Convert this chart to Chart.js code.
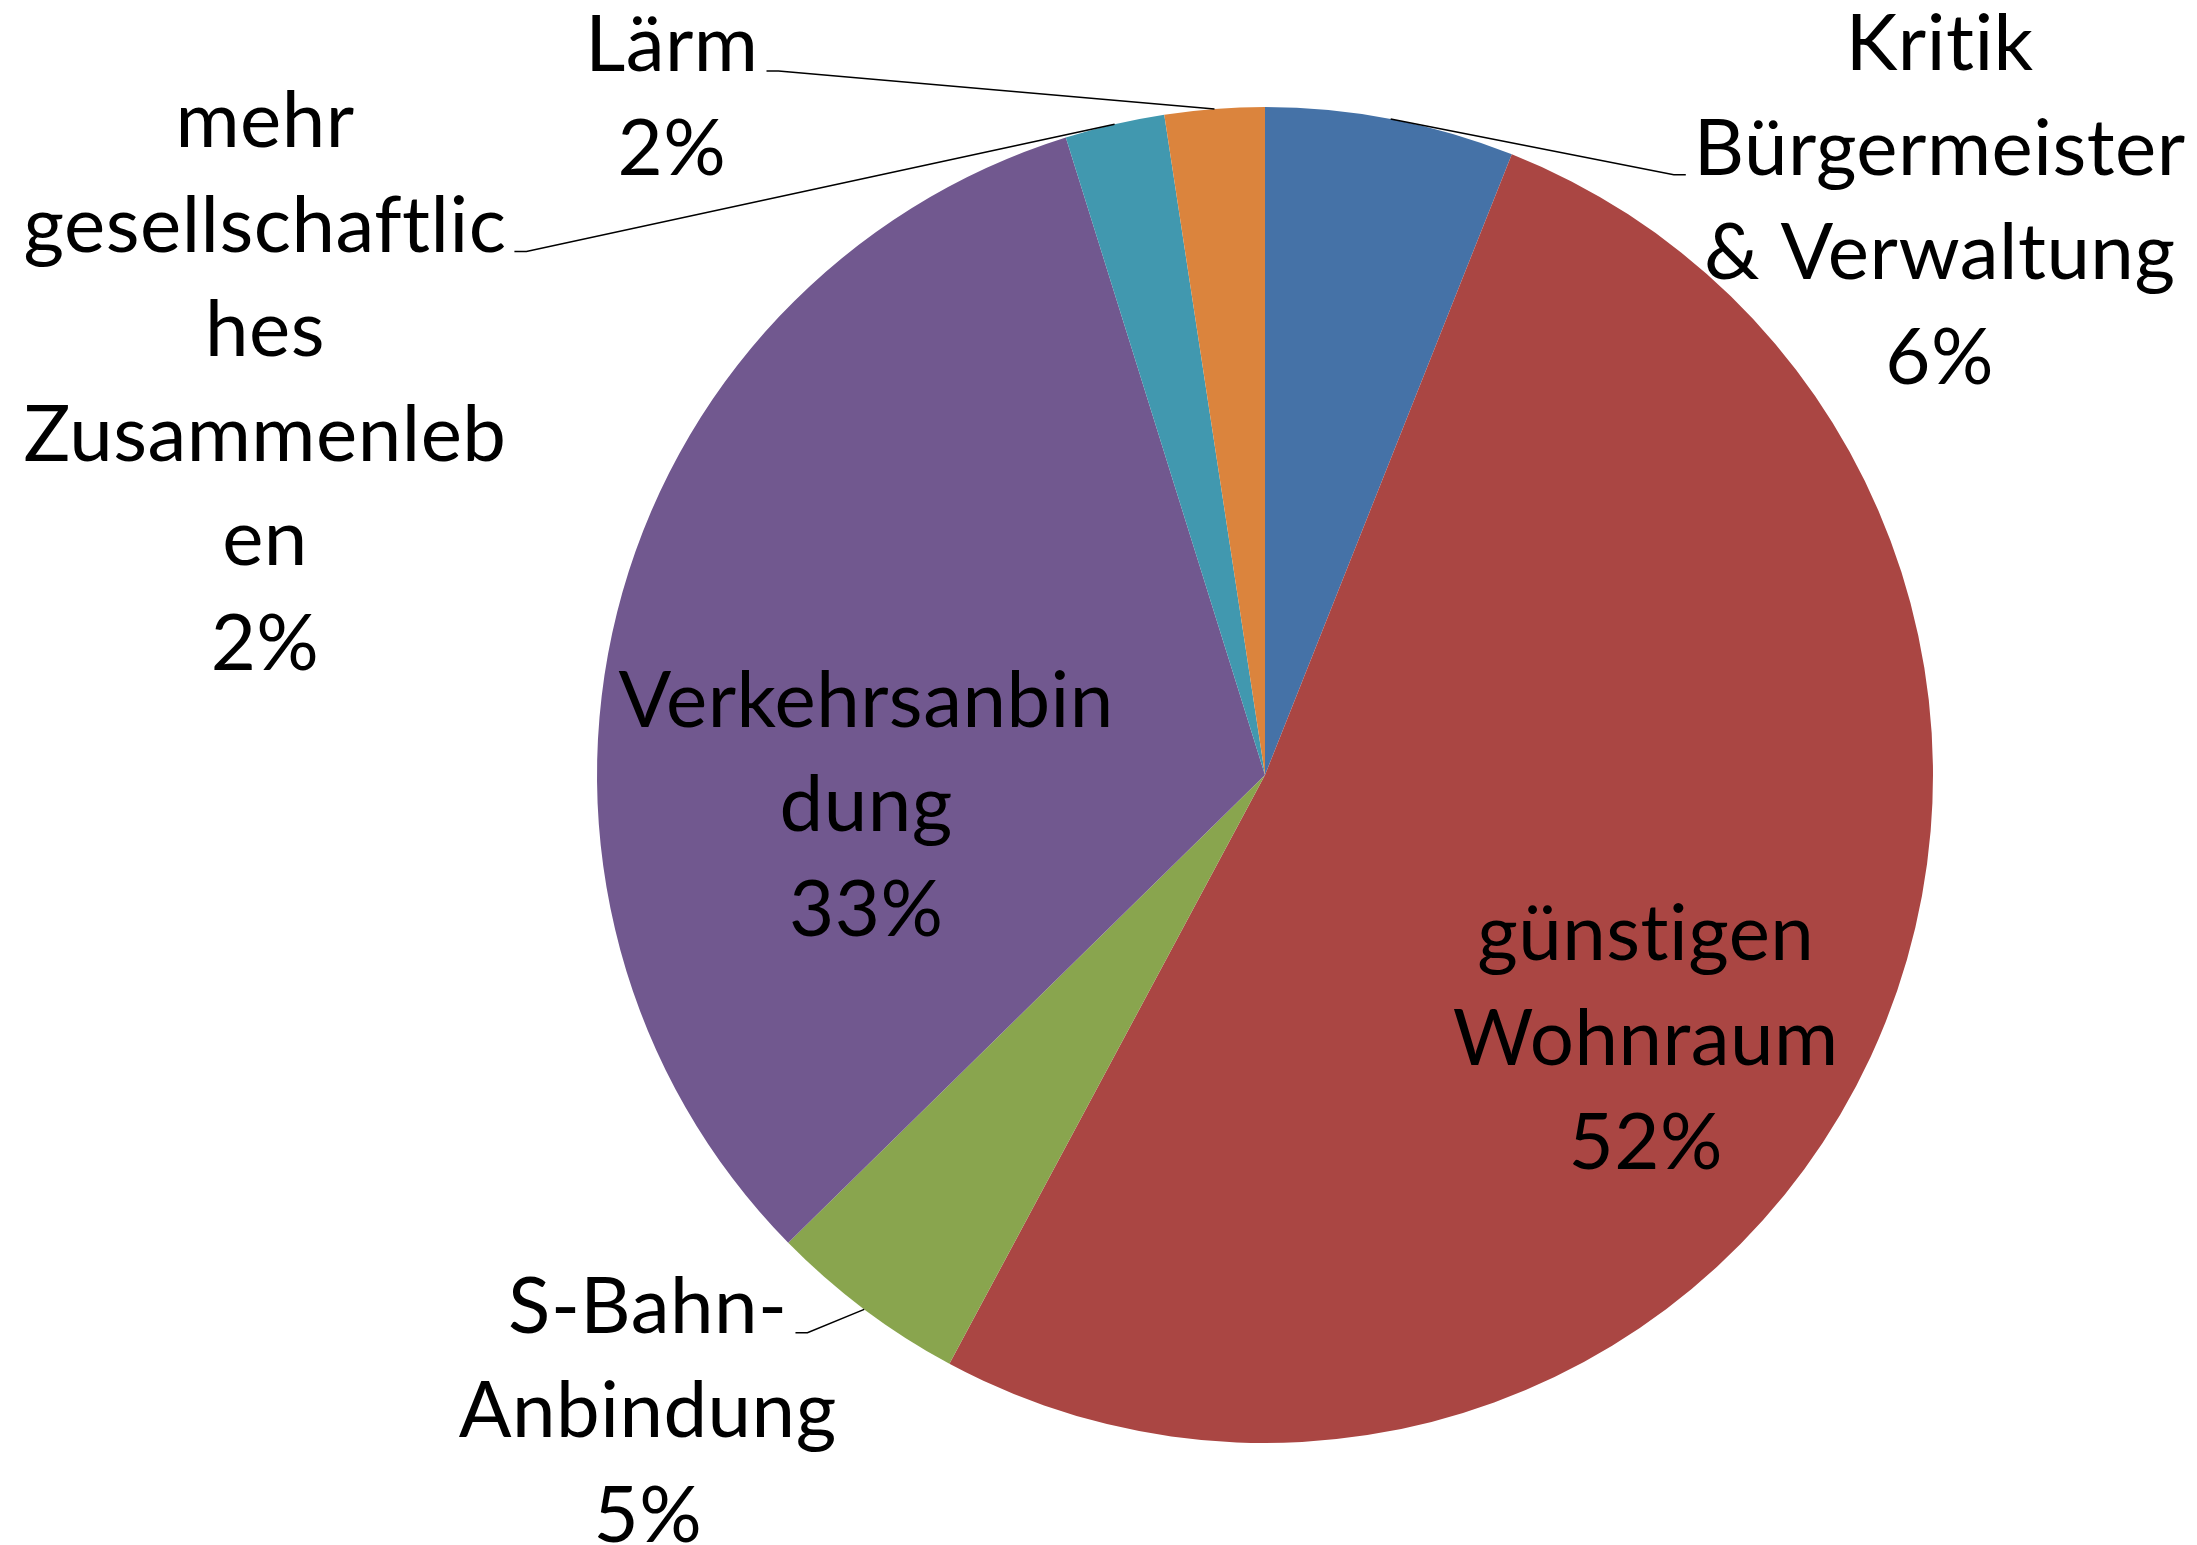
<!DOCTYPE html>
<html lang="de">
<head>
<meta charset="utf-8">
<title>Kreisdiagramm</title>
<script src="https://cdn.jsdelivr.net/npm/chart.js@4.4.1/dist/chart.umd.min.js"></script>
<style>
  html, body { margin: 0; padding: 0; background: #fff; }
  #chart { display: block; }
</style>
</head>
<body>
<canvas id="chart" width="2197" height="1545"></canvas>
<script>
// Kategorien, so umbrochen wie im Original
const kategorien = [
  ["Kritik", "Bürgermeister", "& Verwaltung"],
  ["günstigen", "Wohnraum"],
  ["S-Bahn-", "Anbindung"],
  ["Verkehrsanbin", "dung"],
  ["mehr", "gesellschaftlic", "hes", "Zusammenleb", "en"],
  ["Lärm"]
];
// Anzahl der Nennungen (83 insgesamt)
const nennungen = [5, 43, 4, 27, 2, 2];
const farben = ["#4572A7", "#AA4643", "#89A54E", "#71588F", "#4198AF", "#DB843D"];

// Lage der Beschriftung relativ zur Tortenmitte (in Radien),
// Zeile an der die Führungslinie ansetzt
const beschriftung = [
  { dx: 1.010, dy: -1.055, linie: 1, seite: "links" },
  { dx: 0.570, dy: 0.277 },
  { dx: -0.924, dy: 0.835, linie: 0, seite: "rechts" },
  { dx: -0.597, dy: -0.072 },
  { dx: -1.497, dy: -0.940, linie: 1, seite: "rechts" },
  { dx: -0.888, dy: -1.054, linie: 0, seite: "rechts" }
];

const SCHRIFT = "78px Lato";
const ZEILENHOEHE = 104.5;

// Beschriftungen + Führungslinien wie bei Excel
const beschriftungPlugin = {
  id: "beschriftung",
  afterDatasetsDraw(chart) {
    const ctx = chart.ctx;
    const meta = chart.getDatasetMeta(0);
    const summe = nennungen.reduce((a, b) => a + b, 0);
    ctx.save();
    ctx.font = SCHRIFT;
    ctx.letterSpacing = "0.5px"; // keine "ti"-Ligatur
    ctx.fillStyle = "#000";
    ctx.strokeStyle = "#000";
    ctx.lineWidth = 1.5;
    ctx.textAlign = "center";
    ctx.textBaseline = "alphabetic";
    meta.data.forEach((bogen, i) => {
      const { x, y, startAngle, endAngle, outerRadius } =
        bogen.getProps(["x", "y", "startAngle", "endAngle", "outerRadius"], true);
      const zeilen = kategorien[i].concat(Math.round(nennungen[i] / summe * 100) + "%");
      const b = beschriftung[i];
      const cx = x + b.dx * outerRadius;
      const y0 = y + b.dy * outerRadius;
      zeilen.forEach((z, k) => ctx.fillText(z, cx, y0 + k * ZEILENHOEHE));

      if (b.linie !== undefined) {
        const mitte = (startAngle + endAngle) / 2;
        const px = x + Math.cos(mitte) * outerRadius;
        const py = y + Math.sin(mitte) * outerRadius;
        const breite = ctx.measureText(zeilen[b.linie]).width;
        const ly = y0 + b.linie * ZEILENHOEHE;
        const richtung = b.seite === "links" ? -1 : 1;
        const kante = cx + richtung * breite / 2;
        ctx.beginPath();
        ctx.moveTo(px, py);
        ctx.lineTo(kante + richtung * 20, ly);
        ctx.lineTo(kante + richtung * 8, ly);
        ctx.stroke();
      }
    });
    ctx.restore();
  }
};

new Chart(document.getElementById("chart"), {
  type: "pie",
  data: {
    labels: kategorien,
    datasets: [{
      data: nennungen,
      backgroundColor: farben,
      borderWidth: 0
    }]
  },
  options: {
    responsive: false,
    animation: false,
    layout: { padding: { left: 597, right: 264, top: 107, bottom: 102 } },
    plugins: {
      legend: { display: false },
      tooltip: { enabled: false }
    }
  },
  plugins: [beschriftungPlugin]
});
</script>
</body>
</html>
